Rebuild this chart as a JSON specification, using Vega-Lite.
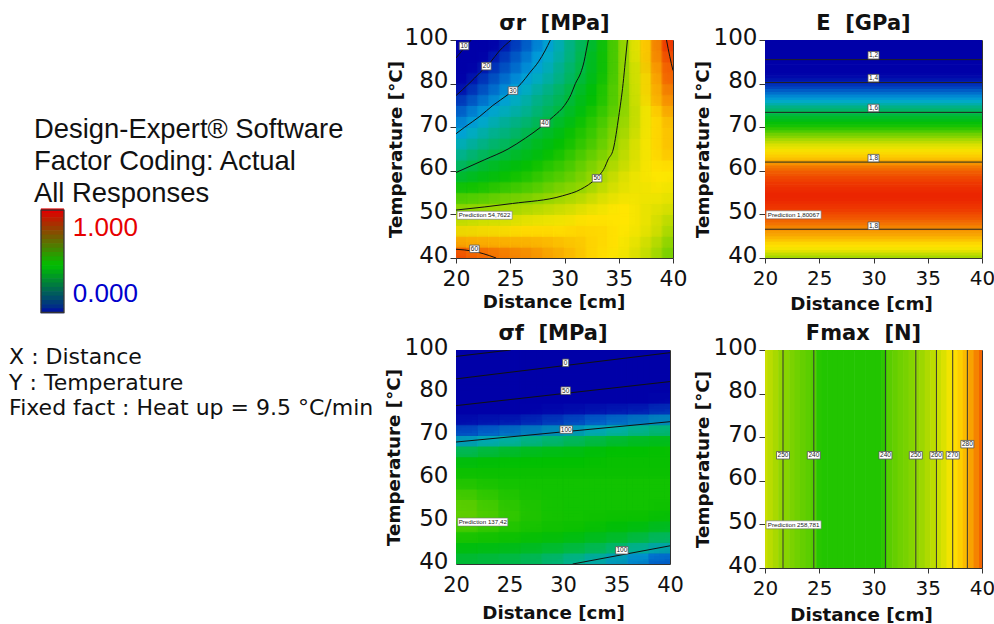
{
"$schema":"https://vega.github.io/schema/vega-lite/v6.json",
"padding":{"left":0,"top":12,"right":0,"bottom":0},
"background":"white",
"columns":3,
"spacing":92,
"bounds":"flush",
"center":{"row":false,"column":true},
"resolve":{"scale":{"color":"independent"}},
"config":{"view":{"stroke":"#333","strokeWidth":1},
"axis":{"grid":false,"domain":false,"labelFont":"DejaVu Sans","labelFontSize":22,"labelColor":"#111","tickColor":"#333","titleFont":"DejaVu Sans","titleFontWeight":"bold","titleFontSize":18.3,"titleColor":"#111","titleBaseline":"alphabetic","labelOverlap":false,"labelFlush":false},
"axisX":{"tickSize":5,"labelPadding":5},
"axisY":{"tickSize":6,"labelPadding":2,"labelOffset":-3,"labelFontSize":23},
"title":{"font":"DejaVu Sans","fontWeight":"bold","fontSize":21,"color":"#111","anchor":"middle","dx":-10,"dy":18,"offset":10}},
"datasets":{
"sr":[
{"x":20,"y":40,"v":62},{"x":21,"y":40,"v":61},{"x":22,"y":40,"v":60.5},{"x":23,"y":40,"v":60},{"x":24,"y":40,"v":59.5},{"x":25,"y":40,"v":59},{"x":26,"y":40,"v":58.5},{"x":27,"y":40,"v":58},{"x":28,"y":40,"v":57.5},{"x":29,"y":40,"v":57},{"x":30,"y":40,"v":56},{"x":31,"y":40,"v":55.5},{"x":32,"y":40,"v":55},{"x":33,"y":40,"v":54.5},{"x":34,"y":40,"v":54},{"x":35,"y":40,"v":53.5},{"x":36,"y":40,"v":53},{"x":37,"y":40,"v":52},{"x":38,"y":40,"v":51},{"x":39,"y":40,"v":49.5},{"x":40,"y":40,"v":48},
{"x":20,"y":42.5,"v":59},{"x":21,"y":42.5,"v":58.5},{"x":22,"y":42.5,"v":58},{"x":23,"y":42.5,"v":58},{"x":24,"y":42.5,"v":57.5},{"x":25,"y":42.5,"v":57.5},{"x":26,"y":42.5,"v":57},{"x":27,"y":42.5,"v":57},{"x":28,"y":42.5,"v":56.5},{"x":29,"y":42.5,"v":56},{"x":30,"y":42.5,"v":56},{"x":31,"y":42.5,"v":55.5},{"x":32,"y":42.5,"v":55},{"x":33,"y":42.5,"v":54.5},{"x":34,"y":42.5,"v":54.5},{"x":35,"y":42.5,"v":54},{"x":36,"y":42.5,"v":53.5},{"x":37,"y":42.5,"v":52.5},{"x":38,"y":42.5,"v":51.5},{"x":39,"y":42.5,"v":50},{"x":40,"y":42.5,"v":48.5},
{"x":20,"y":45,"v":55.5},{"x":21,"y":45,"v":55.5},{"x":22,"y":45,"v":55.5},{"x":23,"y":45,"v":55.5},{"x":24,"y":45,"v":55.5},{"x":25,"y":45,"v":55.5},{"x":26,"y":45,"v":55.5},{"x":27,"y":45,"v":55.5},{"x":28,"y":45,"v":55.5},{"x":29,"y":45,"v":55.5},{"x":30,"y":45,"v":55},{"x":31,"y":45,"v":55},{"x":32,"y":45,"v":55},{"x":33,"y":45,"v":54.5},{"x":34,"y":45,"v":54.5},{"x":35,"y":45,"v":54},{"x":36,"y":45,"v":53.5},{"x":37,"y":45,"v":53},{"x":38,"y":45,"v":52},{"x":39,"y":45,"v":51},{"x":40,"y":45,"v":49.5},
{"x":20,"y":47.5,"v":53},{"x":21,"y":47.5,"v":53},{"x":22,"y":47.5,"v":53.2},{"x":23,"y":47.5,"v":53.5},{"x":24,"y":47.5,"v":53.5},{"x":25,"y":47.5,"v":53.7},{"x":26,"y":47.5,"v":54},{"x":27,"y":47.5,"v":54},{"x":28,"y":47.5,"v":54},{"x":29,"y":47.5,"v":54},{"x":30,"y":47.5,"v":54},{"x":31,"y":47.5,"v":54.5},{"x":32,"y":47.5,"v":54.5},{"x":33,"y":47.5,"v":54.5},{"x":34,"y":47.5,"v":54.5},{"x":35,"y":47.5,"v":54},{"x":36,"y":47.5,"v":54},{"x":37,"y":47.5,"v":53.5},{"x":38,"y":47.5,"v":53},{"x":39,"y":47.5,"v":52},{"x":40,"y":47.5,"v":50.5},
{"x":20,"y":50,"v":50.8},{"x":21,"y":50,"v":51},{"x":22,"y":50,"v":51.3},{"x":23,"y":50,"v":51.5},{"x":24,"y":50,"v":51.7},{"x":25,"y":50,"v":52},{"x":26,"y":50,"v":52.2},{"x":27,"y":50,"v":52.5},{"x":28,"y":50,"v":52.8},{"x":29,"y":50,"v":53},{"x":30,"y":50,"v":53.2},{"x":31,"y":50,"v":53.5},{"x":32,"y":50,"v":54},{"x":33,"y":50,"v":54},{"x":34,"y":50,"v":54},{"x":35,"y":50,"v":54},{"x":36,"y":50,"v":54},{"x":37,"y":50,"v":53.5},{"x":38,"y":50,"v":53},{"x":39,"y":50,"v":52},{"x":40,"y":50,"v":51.5},
{"x":20,"y":52.5,"v":48.7},{"x":21,"y":52.5,"v":48.9},{"x":22,"y":52.5,"v":49.1},{"x":23,"y":52.5,"v":49.3},{"x":24,"y":52.5,"v":49.6},{"x":25,"y":52.5,"v":49.9},{"x":26,"y":52.5,"v":50.1},{"x":27,"y":52.5,"v":50.4},{"x":28,"y":52.5,"v":50.8},{"x":29,"y":52.5,"v":51.2},{"x":30,"y":52.5,"v":51.6},{"x":31,"y":52.5,"v":52},{"x":32,"y":52.5,"v":52.5},{"x":33,"y":52.5,"v":53},{"x":34,"y":52.5,"v":53.5},{"x":35,"y":52.5,"v":54},{"x":36,"y":52.5,"v":54},{"x":37,"y":52.5,"v":53.5},{"x":38,"y":52.5,"v":53},{"x":39,"y":52.5,"v":53},{"x":40,"y":52.5,"v":52.5},
{"x":20,"y":55,"v":46},{"x":21,"y":55,"v":46.5},{"x":22,"y":55,"v":46.5},{"x":23,"y":55,"v":47},{"x":24,"y":55,"v":47.5},{"x":25,"y":55,"v":48},{"x":26,"y":55,"v":48},{"x":27,"y":55,"v":48.5},{"x":28,"y":55,"v":49},{"x":29,"y":55,"v":49.5},{"x":30,"y":55,"v":50},{"x":31,"y":55,"v":50.5},{"x":32,"y":55,"v":51},{"x":33,"y":55,"v":52},{"x":34,"y":55,"v":52.5},{"x":35,"y":55,"v":53},{"x":36,"y":55,"v":53.5},{"x":37,"y":55,"v":53.5},{"x":38,"y":55,"v":53.5},{"x":39,"y":55,"v":53.5},{"x":40,"y":55,"v":53},
{"x":20,"y":57.5,"v":43},{"x":21,"y":57.5,"v":43.5},{"x":22,"y":57.5,"v":44},{"x":23,"y":57.5,"v":44.5},{"x":24,"y":57.5,"v":45},{"x":25,"y":57.5,"v":45.5},{"x":26,"y":57.5,"v":46},{"x":27,"y":57.5,"v":46.5},{"x":28,"y":57.5,"v":47},{"x":29,"y":57.5,"v":48},{"x":30,"y":57.5,"v":48.5},{"x":31,"y":57.5,"v":49},{"x":32,"y":57.5,"v":49.5},{"x":33,"y":57.5,"v":50.5},{"x":34,"y":57.5,"v":51.5},{"x":35,"y":57.5,"v":52.5},{"x":36,"y":57.5,"v":53},{"x":37,"y":57.5,"v":53.5},{"x":38,"y":57.5,"v":53.5},{"x":39,"y":57.5,"v":54},{"x":40,"y":57.5,"v":53.5},
{"x":20,"y":60,"v":39.5},{"x":21,"y":60,"v":40.5},{"x":22,"y":60,"v":41.5},{"x":23,"y":60,"v":42.5},{"x":24,"y":60,"v":43},{"x":25,"y":60,"v":44},{"x":26,"y":60,"v":44.5},{"x":27,"y":60,"v":45},{"x":28,"y":60,"v":46},{"x":29,"y":60,"v":46.5},{"x":30,"y":60,"v":47},{"x":31,"y":60,"v":48},{"x":32,"y":60,"v":49},{"x":33,"y":60,"v":50},{"x":34,"y":60,"v":51},{"x":35,"y":60,"v":52},{"x":36,"y":60,"v":53},{"x":37,"y":60,"v":53.5},{"x":38,"y":60,"v":54},{"x":39,"y":60,"v":54},{"x":40,"y":60,"v":54},
{"x":20,"y":62.5,"v":36.5},{"x":21,"y":62.5,"v":38},{"x":22,"y":62.5,"v":39.5},{"x":23,"y":62.5,"v":40.5},{"x":24,"y":62.5,"v":41.5},{"x":25,"y":62.5,"v":42.5},{"x":26,"y":62.5,"v":43},{"x":27,"y":62.5,"v":44},{"x":28,"y":62.5,"v":44.5},{"x":29,"y":62.5,"v":45.5},{"x":30,"y":62.5,"v":46},{"x":31,"y":62.5,"v":47},{"x":32,"y":62.5,"v":48},{"x":33,"y":62.5,"v":49},{"x":34,"y":62.5,"v":50},{"x":35,"y":62.5,"v":51},{"x":36,"y":62.5,"v":52},{"x":37,"y":62.5,"v":53},{"x":38,"y":62.5,"v":54},{"x":39,"y":62.5,"v":54.5},{"x":40,"y":62.5,"v":54.5},
{"x":20,"y":65,"v":33.5},{"x":21,"y":65,"v":35},{"x":22,"y":65,"v":36.5},{"x":23,"y":65,"v":38},{"x":24,"y":65,"v":39},{"x":25,"y":65,"v":40},{"x":26,"y":65,"v":41},{"x":27,"y":65,"v":42},{"x":28,"y":65,"v":43},{"x":29,"y":65,"v":44},{"x":30,"y":65,"v":45},{"x":31,"y":65,"v":46},{"x":32,"y":65,"v":47},{"x":33,"y":65,"v":48},{"x":34,"y":65,"v":49},{"x":35,"y":65,"v":50.5},{"x":36,"y":65,"v":52},{"x":37,"y":65,"v":53},{"x":38,"y":65,"v":54},{"x":39,"y":65,"v":55},{"x":40,"y":65,"v":55.5},
{"x":20,"y":67.5,"v":31},{"x":21,"y":67.5,"v":32.5},{"x":22,"y":67.5,"v":34},{"x":23,"y":67.5,"v":35.5},{"x":24,"y":67.5,"v":37},{"x":25,"y":67.5,"v":38},{"x":26,"y":67.5,"v":39.5},{"x":27,"y":67.5,"v":41},{"x":28,"y":67.5,"v":42},{"x":29,"y":67.5,"v":43},{"x":30,"y":67.5,"v":44},{"x":31,"y":67.5,"v":45},{"x":32,"y":67.5,"v":46},{"x":33,"y":67.5,"v":47},{"x":34,"y":67.5,"v":48.5},{"x":35,"y":67.5,"v":50},{"x":36,"y":67.5,"v":51.5},{"x":37,"y":67.5,"v":53},{"x":38,"y":67.5,"v":54},{"x":39,"y":67.5,"v":55},{"x":40,"y":67.5,"v":55.5},
{"x":20,"y":70,"v":28.3},{"x":21,"y":70,"v":30},{"x":22,"y":70,"v":32},{"x":23,"y":70,"v":33.5},{"x":24,"y":70,"v":35},{"x":25,"y":70,"v":36},{"x":26,"y":70,"v":37.5},{"x":27,"y":70,"v":39},{"x":28,"y":70,"v":40.5},{"x":29,"y":70,"v":41.5},{"x":30,"y":70,"v":43},{"x":31,"y":70,"v":44.5},{"x":32,"y":70,"v":45.5},{"x":33,"y":70,"v":46.5},{"x":34,"y":70,"v":48},{"x":35,"y":70,"v":49.5},{"x":36,"y":70,"v":51},{"x":37,"y":70,"v":52.5},{"x":38,"y":70,"v":54},{"x":39,"y":70,"v":55},{"x":40,"y":70,"v":55.5},
{"x":20,"y":72.5,"v":25.5},{"x":21,"y":72.5,"v":27.5},{"x":22,"y":72.5,"v":29.5},{"x":23,"y":72.5,"v":31},{"x":24,"y":72.5,"v":33},{"x":25,"y":72.5,"v":34.5},{"x":26,"y":72.5,"v":35.5},{"x":27,"y":72.5,"v":37},{"x":28,"y":72.5,"v":38.5},{"x":29,"y":72.5,"v":40},{"x":30,"y":72.5,"v":41.5},{"x":31,"y":72.5,"v":43},{"x":32,"y":72.5,"v":44.5},{"x":33,"y":72.5,"v":46},{"x":34,"y":72.5,"v":47},{"x":35,"y":72.5,"v":49},{"x":36,"y":72.5,"v":50.5},{"x":37,"y":72.5,"v":52.5},{"x":38,"y":72.5,"v":54},{"x":39,"y":72.5,"v":55},{"x":40,"y":72.5,"v":56},
{"x":20,"y":75,"v":23},{"x":21,"y":75,"v":25},{"x":22,"y":75,"v":27},{"x":23,"y":75,"v":29},{"x":24,"y":75,"v":31},{"x":25,"y":75,"v":32},{"x":26,"y":75,"v":33.5},{"x":27,"y":75,"v":35},{"x":28,"y":75,"v":37},{"x":29,"y":75,"v":38.5},{"x":30,"y":75,"v":40},{"x":31,"y":75,"v":42},{"x":32,"y":75,"v":43.5},{"x":33,"y":75,"v":45},{"x":34,"y":75,"v":46.5},{"x":35,"y":75,"v":48},{"x":36,"y":75,"v":50.5},{"x":37,"y":75,"v":52.5},{"x":38,"y":75,"v":54},{"x":39,"y":75,"v":56},{"x":40,"y":75,"v":57},
{"x":20,"y":77.5,"v":20},{"x":21,"y":77.5,"v":22},{"x":22,"y":77.5,"v":24},{"x":23,"y":77.5,"v":26},{"x":24,"y":77.5,"v":28},{"x":25,"y":77.5,"v":30.5},{"x":26,"y":77.5,"v":32},{"x":27,"y":77.5,"v":34},{"x":28,"y":77.5,"v":36},{"x":29,"y":77.5,"v":37},{"x":30,"y":77.5,"v":39},{"x":31,"y":77.5,"v":41},{"x":32,"y":77.5,"v":43},{"x":33,"y":77.5,"v":44},{"x":34,"y":77.5,"v":46},{"x":35,"y":77.5,"v":48},{"x":36,"y":77.5,"v":50.5},{"x":37,"y":77.5,"v":53},{"x":38,"y":77.5,"v":55},{"x":39,"y":77.5,"v":57},{"x":40,"y":77.5,"v":58},
{"x":20,"y":80,"v":15},{"x":21,"y":80,"v":19},{"x":22,"y":80,"v":22},{"x":23,"y":80,"v":24},{"x":24,"y":80,"v":26},{"x":25,"y":80,"v":28},{"x":26,"y":80,"v":30},{"x":27,"y":80,"v":32},{"x":28,"y":80,"v":34},{"x":29,"y":80,"v":36},{"x":30,"y":80,"v":38},{"x":31,"y":80,"v":40},{"x":32,"y":80,"v":42},{"x":33,"y":80,"v":44},{"x":34,"y":80,"v":46},{"x":35,"y":80,"v":48},{"x":36,"y":80,"v":50.5},{"x":37,"y":80,"v":53},{"x":38,"y":80,"v":55},{"x":39,"y":80,"v":57},{"x":40,"y":80,"v":59},
{"x":20,"y":85,"v":13},{"x":21,"y":85,"v":16},{"x":22,"y":85,"v":19.5},{"x":23,"y":85,"v":22},{"x":24,"y":85,"v":24},{"x":25,"y":85,"v":26},{"x":26,"y":85,"v":28},{"x":27,"y":85,"v":30.5},{"x":28,"y":85,"v":32},{"x":29,"y":85,"v":34},{"x":30,"y":85,"v":36},{"x":31,"y":85,"v":38.5},{"x":32,"y":85,"v":41},{"x":33,"y":85,"v":43},{"x":34,"y":85,"v":45},{"x":35,"y":85,"v":48},{"x":36,"y":85,"v":51},{"x":37,"y":85,"v":53},{"x":38,"y":85,"v":55},{"x":39,"y":85,"v":58},{"x":40,"y":85,"v":60},
{"x":20,"y":90,"v":11},{"x":21,"y":90,"v":14},{"x":22,"y":90,"v":17},{"x":23,"y":90,"v":19.5},{"x":24,"y":90,"v":22},{"x":25,"y":90,"v":24},{"x":26,"y":90,"v":26},{"x":27,"y":90,"v":28.5},{"x":28,"y":90,"v":31},{"x":29,"y":90,"v":33},{"x":30,"y":90,"v":36},{"x":31,"y":90,"v":38},{"x":32,"y":90,"v":40.5},{"x":33,"y":90,"v":43},{"x":34,"y":90,"v":45},{"x":35,"y":90,"v":48},{"x":36,"y":90,"v":51},{"x":37,"y":90,"v":53},{"x":38,"y":90,"v":56},{"x":39,"y":90,"v":58},{"x":40,"y":90,"v":60},
{"x":20,"y":95,"v":9},{"x":21,"y":95,"v":11},{"x":22,"y":95,"v":14},{"x":23,"y":95,"v":17},{"x":24,"y":95,"v":20},{"x":25,"y":95,"v":22.5},{"x":26,"y":95,"v":25},{"x":27,"y":95,"v":27},{"x":28,"y":95,"v":30},{"x":29,"y":95,"v":32},{"x":30,"y":95,"v":34},{"x":31,"y":95,"v":37},{"x":32,"y":95,"v":40},{"x":33,"y":95,"v":43},{"x":34,"y":95,"v":45},{"x":35,"y":95,"v":48},{"x":36,"y":95,"v":51},{"x":37,"y":95,"v":54},{"x":38,"y":95,"v":56},{"x":39,"y":95,"v":59},{"x":40,"y":95,"v":61},
{"x":20,"y":100,"v":7},{"x":21,"y":100,"v":9},{"x":22,"y":100,"v":12},{"x":23,"y":100,"v":14},{"x":24,"y":100,"v":17},{"x":25,"y":100,"v":20},{"x":26,"y":100,"v":23},{"x":27,"y":100,"v":25},{"x":28,"y":100,"v":28},{"x":29,"y":100,"v":31},{"x":30,"y":100,"v":34},{"x":31,"y":100,"v":37},{"x":32,"y":100,"v":39},{"x":33,"y":100,"v":42},{"x":34,"y":100,"v":45},{"x":35,"y":100,"v":48},{"x":36,"y":100,"v":51},{"x":37,"y":100,"v":54},{"x":38,"y":100,"v":56},{"x":39,"y":100,"v":59},{"x":40,"y":100,"v":62}
],
"srLines":[
{"c":"a","x":20,"y":91.75},{"c":"a","x":20.7,"y":96},{"c":"a","x":21.4,"y":100},
{"c":"b","x":20,"y":77.25},{"c":"b","x":21.2,"y":80},{"c":"b","x":22.2,"y":85},{"c":"b","x":23.2,"y":90},{"c":"b","x":24,"y":95},{"c":"b","x":25.1,"y":100},
{"c":"d","x":20,"y":68.5},{"c":"d","x":20.8,"y":70},{"c":"d","x":22.2,"y":72.5},{"c":"d","x":23.4,"y":75},{"c":"d","x":24.8,"y":77.5},{"c":"d","x":26,"y":80},{"c":"d","x":26.8,"y":85},{"c":"d","x":27.6,"y":90},{"c":"d","x":28.2,"y":95},{"c":"d","x":28.7,"y":100},
{"c":"e","x":20,"y":59.6},{"c":"e","x":22.6,"y":62.5},{"c":"e","x":24.8,"y":65},{"c":"e","x":26.4,"y":67.5},{"c":"e","x":27.8,"y":70},{"c":"e","x":29,"y":72.5},{"c":"e","x":30,"y":75},{"c":"e","x":30.6,"y":77.5},{"c":"e","x":31,"y":80},{"c":"e","x":31.5,"y":85},{"c":"e","x":31.8,"y":90},{"c":"e","x":32,"y":95},{"c":"e","x":32.2,"y":100},
{"c":"f","x":20,"y":51},{"c":"f","x":25.2,"y":52.5},{"c":"f","x":29.8,"y":54.25},{"c":"f","x":31.5,"y":55.75},{"c":"f","x":32.9,"y":58.25},{"c":"f","x":33.7,"y":60.75},{"c":"f","x":34,"y":62.5},{"c":"f","x":34.5,"y":65},{"c":"f","x":35,"y":72.5},{"c":"f","x":35.4,"y":80},{"c":"f","x":35.6,"y":90},{"c":"f","x":35.8,"y":100},
{"c":"g","x":20,"y":42},{"c":"g","x":21.5,"y":41.6},{"c":"g","x":22.5,"y":41},{"c":"g","x":23.7,"y":40},
{"c":"h","x":39.4,"y":100},{"c":"h","x":39.7,"y":92.5},{"c":"h","x":40,"y":86}
],
"srLabels":[{"x":20.74,"y":97.25,"t":"10"},{"x":22.8,"y":88,"t":"20"},{"x":25.25,"y":78.4,"t":"30"},{"x":28.2,"y":70.9,"t":"40"},{"x":33,"y":58.3,"t":"50"},{"x":21.7,"y":42.1,"t":"60"}],
"e":[
{"x":30,"y":40,"v":1.7},{"x":30,"y":41.25,"v":1.73},{"x":30,"y":42.5,"v":1.75},{"x":30,"y":43.75,"v":1.76},{"x":30,"y":45,"v":1.78},{"x":30,"y":46.25,"v":1.79},{"x":30,"y":47.5,"v":1.805},{"x":30,"y":48.75,"v":1.82},{"x":30,"y":50,"v":1.83},{"x":30,"y":51.25,"v":1.84},{"x":30,"y":52.5,"v":1.845},{"x":30,"y":53.75,"v":1.85},{"x":30,"y":55,"v":1.85},{"x":30,"y":56.25,"v":1.845},{"x":30,"y":57.5,"v":1.84},{"x":30,"y":58.75,"v":1.83},{"x":30,"y":60,"v":1.82},{"x":30,"y":61.25,"v":1.805},{"x":30,"y":62.5,"v":1.775},{"x":30,"y":63.75,"v":1.76},{"x":30,"y":65,"v":1.745},{"x":30,"y":66.25,"v":1.73},{"x":30,"y":67.5,"v":1.705},{"x":30,"y":68.75,"v":1.68},{"x":30,"y":70,"v":1.65},{"x":30,"y":71.25,"v":1.63},{"x":30,"y":72.5,"v":1.61},{"x":30,"y":73.75,"v":1.59},{"x":30,"y":75,"v":1.56},{"x":30,"y":76.25,"v":1.525},{"x":30,"y":77.5,"v":1.49},{"x":30,"y":78.75,"v":1.46},{"x":30,"y":80,"v":1.43},{"x":30,"y":82.5,"v":1.41},{"x":30,"y":85,"v":1.35},{"x":30,"y":87.5,"v":1.3},{"x":30,"y":90,"v":1.22},{"x":30,"y":92.5,"v":1.17},{"x":30,"y":95,"v":1.1},{"x":30,"y":97.5,"v":1.05},{"x":30,"y":100,"v":1}
],
"eLines":[{"c":"a","x":20,"y":91},{"c":"a","x":40,"y":91},{"c":"b","x":20,"y":80.5},{"c":"b","x":40,"y":80.5},{"c":"d","x":20,"y":73.4},{"c":"d","x":40,"y":73.4},{"c":"e","x":20,"y":62},{"c":"e","x":40,"y":62},{"c":"f","x":20,"y":46.6},{"c":"f","x":40,"y":46.6}],
"eLabels":[{"x":30,"y":93,"t":"1,2"},{"x":30,"y":82.5,"t":"1,4"},{"x":30,"y":74.4,"t":"1,6"},{"x":30,"y":62.9,"t":"1,8"},{"x":30,"y":47.4,"t":"1,8"}],
"sf":[
{"x":20,"y":40,"v":117},{"x":22,"y":40,"v":115},{"x":24,"y":40,"v":114},{"x":26,"y":40,"v":112},{"x":28,"y":40,"v":108},{"x":30,"y":40,"v":102},{"x":32,"y":40,"v":96},{"x":34,"y":40,"v":90},{"x":36,"y":40,"v":84},{"x":38,"y":40,"v":77},{"x":40,"y":40,"v":70},
{"x":20,"y":42.5,"v":120},{"x":22,"y":42.5,"v":119},{"x":24,"y":42.5,"v":118},{"x":26,"y":42.5,"v":117},{"x":28,"y":42.5,"v":115},{"x":30,"y":42.5,"v":113},{"x":32,"y":42.5,"v":110},{"x":34,"y":42.5,"v":106},{"x":36,"y":42.5,"v":100},{"x":38,"y":42.5,"v":94},{"x":40,"y":42.5,"v":86},
{"x":20,"y":45,"v":125},{"x":22,"y":45,"v":124},{"x":24,"y":45,"v":124},{"x":26,"y":45,"v":123},{"x":28,"y":45,"v":122},{"x":30,"y":45,"v":120},{"x":32,"y":45,"v":118},{"x":34,"y":45,"v":116},{"x":36,"y":45,"v":113},{"x":38,"y":45,"v":108},{"x":40,"y":45,"v":104},
{"x":20,"y":47.5,"v":130},{"x":22,"y":47.5,"v":129},{"x":24,"y":47.5,"v":128},{"x":26,"y":47.5,"v":127},{"x":28,"y":47.5,"v":126},{"x":30,"y":47.5,"v":126},{"x":32,"y":47.5,"v":124},{"x":34,"y":47.5,"v":122},{"x":36,"y":47.5,"v":121},{"x":38,"y":47.5,"v":118},{"x":40,"y":47.5,"v":115},
{"x":20,"y":50,"v":136},{"x":22,"y":50,"v":134},{"x":24,"y":50,"v":131},{"x":26,"y":50,"v":129},{"x":28,"y":50,"v":128},{"x":30,"y":50,"v":127},{"x":32,"y":50,"v":127},{"x":34,"y":50,"v":126},{"x":36,"y":50,"v":125},{"x":38,"y":50,"v":124},{"x":40,"y":50,"v":122},
{"x":20,"y":52.5,"v":137},{"x":22,"y":52.5,"v":136},{"x":24,"y":52.5,"v":133},{"x":26,"y":52.5,"v":130},{"x":28,"y":52.5,"v":128},{"x":30,"y":52.5,"v":127},{"x":32,"y":52.5,"v":127},{"x":34,"y":52.5,"v":127},{"x":36,"y":52.5,"v":127},{"x":38,"y":52.5,"v":127},{"x":40,"y":52.5,"v":126},
{"x":20,"y":55,"v":136},{"x":22,"y":55,"v":134},{"x":24,"y":55,"v":131},{"x":26,"y":55,"v":129},{"x":28,"y":55,"v":128},{"x":30,"y":55,"v":127},{"x":32,"y":55,"v":127},{"x":34,"y":55,"v":127},{"x":36,"y":55,"v":127},{"x":38,"y":55,"v":127},{"x":40,"y":55,"v":127},
{"x":20,"y":57.5,"v":132},{"x":22,"y":57.5,"v":131},{"x":24,"y":57.5,"v":129},{"x":26,"y":57.5,"v":128},{"x":28,"y":57.5,"v":127},{"x":30,"y":57.5,"v":127},{"x":32,"y":57.5,"v":127},{"x":34,"y":57.5,"v":127},{"x":36,"y":57.5,"v":127},{"x":38,"y":57.5,"v":127},{"x":40,"y":57.5,"v":127},
{"x":20,"y":60,"v":128},{"x":22,"y":60,"v":128},{"x":24,"y":60,"v":127},{"x":26,"y":60,"v":127},{"x":28,"y":60,"v":127},{"x":30,"y":60,"v":127},{"x":32,"y":60,"v":127},{"x":34,"y":60,"v":127},{"x":36,"y":60,"v":127},{"x":38,"y":60,"v":127},{"x":40,"y":60,"v":127},
{"x":20,"y":62.5,"v":126},{"x":22,"y":62.5,"v":126},{"x":24,"y":62.5,"v":126},{"x":26,"y":62.5,"v":126},{"x":28,"y":62.5,"v":126},{"x":30,"y":62.5,"v":126},{"x":32,"y":62.5,"v":126},{"x":34,"y":62.5,"v":126},{"x":36,"y":62.5,"v":126},{"x":38,"y":62.5,"v":126},{"x":40,"y":62.5,"v":126},
{"x":20,"y":65,"v":122},{"x":22,"y":65,"v":123},{"x":24,"y":65,"v":124},{"x":26,"y":65,"v":124},{"x":28,"y":65,"v":125},{"x":30,"y":65,"v":125},{"x":32,"y":65,"v":125},{"x":34,"y":65,"v":126},{"x":36,"y":65,"v":126},{"x":38,"y":65,"v":126},{"x":40,"y":65,"v":126},
{"x":20,"y":67.5,"v":108},{"x":22,"y":67.5,"v":112},{"x":24,"y":67.5,"v":115},{"x":26,"y":67.5,"v":118},{"x":28,"y":67.5,"v":120},{"x":30,"y":67.5,"v":121},{"x":32,"y":67.5,"v":122},{"x":34,"y":67.5,"v":124},{"x":36,"y":67.5,"v":125},{"x":38,"y":67.5,"v":125},{"x":40,"y":67.5,"v":126},
{"x":20,"y":70,"v":88},{"x":22,"y":70,"v":92},{"x":24,"y":70,"v":96},{"x":26,"y":70,"v":100},{"x":28,"y":70,"v":104},{"x":30,"y":70,"v":107},{"x":32,"y":70,"v":111},{"x":34,"y":70,"v":114},{"x":36,"y":70,"v":117},{"x":38,"y":70,"v":119},{"x":40,"y":70,"v":120},
{"x":20,"y":72.5,"v":70},{"x":22,"y":72.5,"v":74},{"x":24,"y":72.5,"v":77},{"x":26,"y":72.5,"v":80},{"x":28,"y":72.5,"v":84},{"x":30,"y":72.5,"v":87},{"x":32,"y":72.5,"v":91},{"x":34,"y":72.5,"v":95},{"x":36,"y":72.5,"v":99},{"x":38,"y":72.5,"v":102},{"x":40,"y":72.5,"v":106},
{"x":20,"y":75,"v":58},{"x":22,"y":75,"v":60},{"x":24,"y":75,"v":62},{"x":26,"y":75,"v":65},{"x":28,"y":75,"v":68},{"x":30,"y":75,"v":70},{"x":32,"y":75,"v":73},{"x":34,"y":75,"v":76},{"x":36,"y":75,"v":79},{"x":38,"y":75,"v":82},{"x":40,"y":75,"v":86},
{"x":20,"y":77.5,"v":46},{"x":22,"y":77.5,"v":48},{"x":24,"y":77.5,"v":50},{"x":26,"y":77.5,"v":52},{"x":28,"y":77.5,"v":54},{"x":30,"y":77.5,"v":56},{"x":32,"y":77.5,"v":58},{"x":34,"y":77.5,"v":60},{"x":36,"y":77.5,"v":62},{"x":38,"y":77.5,"v":65},{"x":40,"y":77.5,"v":69},
{"x":20,"y":80,"v":26},{"x":22,"y":80,"v":30},{"x":24,"y":80,"v":35},{"x":26,"y":80,"v":39},{"x":28,"y":80,"v":44},{"x":30,"y":80,"v":48},{"x":32,"y":80,"v":50},{"x":34,"y":80,"v":52},{"x":36,"y":80,"v":54},{"x":38,"y":80,"v":56},{"x":40,"y":80,"v":58},
{"x":20,"y":85,"v":6},{"x":22,"y":85,"v":10.5},{"x":24,"y":85,"v":15},{"x":26,"y":85,"v":19.5},{"x":28,"y":85,"v":24},{"x":30,"y":85,"v":28.5},{"x":32,"y":85,"v":33},{"x":34,"y":85,"v":37.5},{"x":36,"y":85,"v":42},{"x":38,"y":85,"v":46.5},{"x":40,"y":85,"v":51},
{"x":20,"y":90,"v":-14},{"x":22,"y":90,"v":-9.5},{"x":24,"y":90,"v":-5},{"x":26,"y":90,"v":-0.5},{"x":28,"y":90,"v":4},{"x":30,"y":90,"v":8.5},{"x":32,"y":90,"v":13},{"x":34,"y":90,"v":17.5},{"x":36,"y":90,"v":22},{"x":38,"y":90,"v":26.5},{"x":40,"y":90,"v":31},
{"x":20,"y":95,"v":-41},{"x":22,"y":95,"v":-35},{"x":24,"y":95,"v":-30},{"x":26,"y":95,"v":-24},{"x":28,"y":95,"v":-18},{"x":30,"y":95,"v":-12},{"x":32,"y":95,"v":-6},{"x":34,"y":95,"v":0},{"x":36,"y":95,"v":6},{"x":38,"y":95,"v":12},{"x":40,"y":95,"v":19},
{"x":20,"y":100,"v":-62},{"x":22,"y":100,"v":-57},{"x":24,"y":100,"v":-52},{"x":26,"y":100,"v":-47},{"x":28,"y":100,"v":-41},{"x":30,"y":100,"v":-36},{"x":32,"y":100,"v":-31},{"x":34,"y":100,"v":-25},{"x":36,"y":100,"v":-19},{"x":38,"y":100,"v":-12},{"x":40,"y":100,"v":-5}
],
"sfLines":[{"c":"a","x":20,"y":97},{"c":"a","x":25.1,"y":100},{"c":"b","x":20,"y":86.5},{"c":"b","x":40,"y":98.75},{"c":"d","x":20,"y":77},{"c":"d","x":30.67,"y":80},{"c":"d","x":40,"y":85.25},{"c":"e","x":20,"y":68.5},{"c":"e","x":40,"y":73.25},{"c":"f","x":30.9,"y":40},{"c":"f","x":40,"y":44.25}],
"sfLabels":[{"x":30.25,"y":94,"t":"0"},{"x":30.25,"y":81,"t":"50"},{"x":30.3,"y":71.4,"t":"100"},{"x":35.5,"y":43.2,"t":"100"}],
"f":[
{"x":20,"y":65,"v":261},{"x":20.5,"y":65,"v":258},{"x":21,"y":65,"v":255},{"x":21.5,"y":65,"v":251},{"x":22,"y":65,"v":249},{"x":22.5,"y":65,"v":247},{"x":23,"y":65,"v":245},{"x":23.5,"y":65,"v":243},{"x":24,"y":65,"v":241.5},{"x":24.5,"y":65,"v":240},{"x":25,"y":65,"v":232},{"x":25.5,"y":65,"v":231},{"x":26,"y":65,"v":231},{"x":26.5,"y":65,"v":231},{"x":27,"y":65,"v":231},{"x":27.5,"y":65,"v":231},{"x":28,"y":65,"v":231},{"x":28.5,"y":65,"v":231},{"x":29,"y":65,"v":231},{"x":29.5,"y":65,"v":231},{"x":30,"y":65,"v":231},{"x":30.5,"y":65,"v":231},{"x":31,"y":65,"v":233},{"x":31.5,"y":65,"v":241},{"x":32,"y":65,"v":243},{"x":32.5,"y":65,"v":245},{"x":33,"y":65,"v":246.5},{"x":33.5,"y":65,"v":248.5},{"x":34,"y":65,"v":250.5},{"x":34.5,"y":65,"v":253},{"x":35,"y":65,"v":256},{"x":35.5,"y":65,"v":258.5},{"x":36,"y":65,"v":261},{"x":36.5,"y":65,"v":264},{"x":37,"y":65,"v":268},{"x":37.5,"y":65,"v":272},{"x":38,"y":65,"v":275},{"x":38.5,"y":65,"v":279},{"x":39,"y":65,"v":284},{"x":39.5,"y":65,"v":290},{"x":40,"y":65,"v":296}
],
"fLines":[{"c":"a","x":21.66,"y":40},{"c":"a","x":21.66,"y":100},{"c":"b","x":24.5,"y":40},{"c":"b","x":24.5,"y":100},{"c":"d","x":31.1,"y":40},{"c":"d","x":31.1,"y":100},{"c":"e","x":33.9,"y":40},{"c":"e","x":33.9,"y":100},{"c":"f","x":35.8,"y":40},{"c":"f","x":35.8,"y":100},{"c":"g","x":37.3,"y":40},{"c":"g","x":37.3,"y":100},{"c":"h","x":38.65,"y":40},{"c":"h","x":38.65,"y":100}],
"fLabels":[{"x":21.66,"y":65.85,"t":"250"},{"x":24.5,"y":65.85,"t":"240"},{"x":31.1,"y":65.85,"t":"240"},{"x":33.9,"y":65.85,"t":"250"},{"x":35.8,"y":65.85,"t":"260"},{"x":37.3,"y":65.85,"t":"270"},{"x":38.65,"y":68.4,"t":"280"}],
"bar":[
{"y":78.4,"v":1},{"y":80.4,"v":0.96},{"y":82.4,"v":0.92},{"y":84.4,"v":0.88},{"y":86.4,"v":0.84},{"y":88.4,"v":0.8},{"y":90.4,"v":0.76},{"y":92.4,"v":0.72},{"y":94.4,"v":0.68},{"y":96.4,"v":0.64},{"y":98.4,"v":0.6},{"y":100.4,"v":0.56},{"y":102.4,"v":0.52},{"y":104.4,"v":0.48},{"y":106.4,"v":0.44},{"y":108.4,"v":0.4},{"y":110.4,"v":0.36},{"y":112.4,"v":0.32},{"y":114.4,"v":0.28},{"y":116.4,"v":0.24},{"y":118.4,"v":0.2},{"y":120.4,"v":0.16},{"y":122.4,"v":0.12},{"y":124.2,"v":0.06}
]
},
"concat":[
{"width":364,"height":218,"view":{"stroke":null},
"encoding":{"x":{"type":"quantitative","scale":{"domain":[0,100],"nice":false},"axis":null},"y":{"type":"quantitative","scale":{"domain":[0,100],"reverse":true,"nice":false},"axis":null}},
"layer":[
{"data":{"values":[{"x":9.34,"y":45,"t":"Design-Expert® Software"},{"x":9.34,"y":59.6,"t":"Factor Coding: Actual"},{"x":9.34,"y":74.3,"t":"All Responses"}]},
"mark":{"type":"text","align":"left","baseline":"alphabetic","font":"Liberation Sans","fontSize":27.4,"color":"#111"},
"encoding":{"x":{"field":"x"},"y":{"field":"y"},"text":{"field":"t"}}},
{"data":{"name":"bar"},"mark":{"type":"rect","width":23,"height":5},
"encoding":{"x":{"datum":14.4},"y":{"field":"y"},"color":{"field":"v","type":"quantitative","legend":null,"scale":{"domain":[0,0.5,1],"range":["#0000b0","#00c000","#e00000"],"interpolate":"rgb","clamp":true}}}},
{"data":{"values":[{"x":11.26,"x2":17.58,"y":78,"y2":125}]},"mark":{"type":"rect","fillOpacity":0,"stroke":"#333","strokeWidth":1.3},
"encoding":{"x":{"field":"x"},"x2":{"field":"x2"},"y":{"field":"y"},"y2":{"field":"y2"}}},
{"data":{"values":[{"x":20,"y":89.9,"t":"1.000"}]},"mark":{"type":"text","align":"left","baseline":"alphabetic","font":"Liberation Sans","fontSize":26,"color":"#e60000"},
"encoding":{"x":{"field":"x"},"y":{"field":"y"},"text":{"field":"t"}}},
{"data":{"values":[{"x":20,"y":120.2,"t":"0.000"}]},"mark":{"type":"text","align":"left","baseline":"alphabetic","font":"Liberation Sans","fontSize":26,"color":"#0000cc"},
"encoding":{"x":{"field":"x"},"y":{"field":"y"},"text":{"field":"t"}}}
]},
{"width":217,"height":218,"title":"σr\u00a0\u00a0[MPa]",
"encoding":{"x":{"type":"quantitative","field":"x","scale":{"domain":[20,40],"nice":false,"zero":false},"axis":{"values":[20,25,30,35,40],"title":"Distance [cm]","titleX":97.5,"titleY":49,"labelFontSize":22}},
"y":{"type":"quantitative","field":"y","scale":{"domain":[40,50,60,70,80,100],"range":[218,174.4,130.8,87.2,43.6,0]},"axis":{"values":[40,50,60,70,80,100],"title":"Temperature [°C]","titleX":-55,"titleY":109}}},
"layer":[
{"data":{"name":"sr"},"mark":{"type":"rect","width":11.6,"height":11.6,"clip":true},"encoding":{"color":{"field":"v","type":"quantitative","legend":null,"scale":{"domain":[18,30,44,54,63],"range":["#0000a8","#00a8e0","#00c000","#ffe600","#e80000"],"interpolate":"rgb","clamp":true}}}},
{"data":{"name":"sr"},"mark":{"type":"rect","width":17,"height":17,"clip":true,"opacity":0.35},"encoding":{"color":{"field":"v","type":"quantitative","legend":null,"scale":{"domain":[18,30,44,54,63],"range":["#0000a8","#00a8e0","#00c000","#ffe600","#e80000"],"interpolate":"rgb","clamp":true}}}},
{"data":{"name":"sr"},"mark":{"type":"rect","width":23,"height":23,"clip":true,"opacity":0.35},"encoding":{"color":{"field":"v","type":"quantitative","legend":null,"scale":{"domain":[18,30,44,54,63],"range":["#0000a8","#00a8e0","#00c000","#ffe600","#e80000"],"interpolate":"rgb","clamp":true}}}},
{"data":{"name":"srLines"},"mark":{"type":"line","color":"#111","strokeWidth":1,"interpolate":"monotone","clip":true},"encoding":{"detail":{"field":"c"},"order":{"field":"x"}}},
{"data":{"name":"srLabels"},"mark":{"type":"rect","width":9.5,"height":7.5,"fill":"white","stroke":"#555","strokeWidth":0.8}},
{"data":{"name":"srLabels"},"mark":{"type":"text","font":"Liberation Sans","fontSize":6.5,"color":"#222"},"encoding":{"text":{"field":"t"}}},
{"data":{"values":[{"x":22.64,"y":49.8,"t":"Prediction  54,7622"}]},"mark":{"type":"rect","width":55,"height":8,"fill":"white","stroke":"#777","strokeWidth":0.6}},
{"data":{"values":[{"x":22.64,"y":49.8,"t":"Prediction  54,7622"}]},"mark":{"type":"text","font":"Liberation Sans","fontSize":6.2,"color":"#222"},"encoding":{"text":{"field":"t"}}}
]},
{"width":217,"height":218,"title":"E\u00a0\u00a0[GPa]",
"encoding":{"x":{"type":"quantitative","field":"x","scale":{"domain":[20,40],"nice":false,"zero":false},"axis":{"values":[20,25,30,35,40],"title":"Distance [cm]","titleX":96,"titleY":51,"labelFontSize":20}},
"y":{"type":"quantitative","field":"y","scale":{"domain":[40,50,60,70,80,100],"range":[218,174.4,130.8,87.2,43.6,0]},"axis":{"values":[40,50,60,70,80,100],"title":"Temperature [°C]","titleX":-57,"titleY":109}}},
"layer":[
{"data":{"name":"e"},"mark":{"type":"rect","width":218,"height":6,"clip":true},"encoding":{"color":{"field":"v","type":"quantitative","legend":null,"scale":{"domain":[1.4,1.52,1.635,1.75,1.87],"range":["#0000a8","#00a8e0","#00c000","#ffe600","#e80000"],"interpolate":"rgb","clamp":true}}}},
{"data":{"name":"e"},"mark":{"type":"rect","width":218,"height":11,"clip":true,"opacity":0.35},"encoding":{"color":{"field":"v","type":"quantitative","legend":null,"scale":{"domain":[1.4,1.52,1.635,1.75,1.87],"range":["#0000a8","#00a8e0","#00c000","#ffe600","#e80000"],"interpolate":"rgb","clamp":true}}}},
{"data":{"name":"eLines"},"mark":{"type":"line","color":"#222","strokeWidth":1,"clip":true},"encoding":{"detail":{"field":"c"}}},
{"data":{"name":"eLabels"},"mark":{"type":"rect","width":11,"height":7.5,"fill":"white","stroke":"#555","strokeWidth":0.8}},
{"data":{"name":"eLabels"},"mark":{"type":"text","font":"Liberation Sans","fontSize":6.5,"color":"#222"},"encoding":{"text":{"field":"t"}}},
{"data":{"values":[{"x":22.64,"y":49.9,"t":"Prediction  1,80067"}]},"mark":{"type":"rect","width":55,"height":8,"fill":"white","stroke":"#777","strokeWidth":0.6}},
{"data":{"values":[{"x":22.64,"y":49.9,"t":"Prediction  1,80067"}]},"mark":{"type":"text","font":"Liberation Sans","fontSize":6.2,"color":"#222"},"encoding":{"text":{"field":"t"}}}
]},
{"width":364,"height":218,"view":{"stroke":null},
"encoding":{"x":{"type":"quantitative","scale":{"domain":[0,100],"nice":false},"axis":null},"y":{"type":"quantitative","scale":{"domain":[0,100],"reverse":true,"nice":false},"axis":null}},
"layer":[
{"data":{"values":[{"x":2.5,"y":6.4,"t":"X : Distance"},{"x":2.5,"y":18.3,"t":"Y : Temperature"},{"x":2.5,"y":29.8,"t":"Fixed fact : Heat up = 9.5 °C/min"}]},
"mark":{"type":"text","align":"left","baseline":"alphabetic","font":"DejaVu Sans","fontSize":22,"color":"#111"},
"encoding":{"x":{"field":"x"},"y":{"field":"y"},"text":{"field":"t"}}}
]},
{"width":214,"height":214,"title":"σf\u00a0\u00a0[MPa]",
"encoding":{"x":{"type":"quantitative","field":"x","scale":{"domain":[20,40],"nice":false,"zero":false},"axis":{"values":[20,25,30,35,40],"title":"Distance [cm]","titleX":97,"titleY":54,"ticks":false,"labelPadding":10,"labelFontSize":21}},
"y":{"type":"quantitative","field":"y","scale":{"domain":[40,50,60,70,80,100],"range":[214,171.2,128.4,85.6,42.8,0]},"axis":{"values":[40,50,60,70,80,100],"title":"Temperature [°C]","titleX":-57,"titleY":107,"ticks":false,"labelPadding":8}}},
"layer":[
{"data":{"name":"sf"},"mark":{"type":"rect","width":22,"height":11.4,"clip":true},"encoding":{"color":{"field":"v","type":"quantitative","legend":null,"scale":{"domain":[65,95,125,155,185],"range":["#0000a8","#00a8e0","#00c000","#ffe600","#e80000"],"interpolate":"rgb","clamp":true}}}},
{"data":{"name":"sf"},"mark":{"type":"rect","width":32,"height":16,"clip":true,"opacity":0.35},"encoding":{"color":{"field":"v","type":"quantitative","legend":null,"scale":{"domain":[65,95,125,155,185],"range":["#0000a8","#00a8e0","#00c000","#ffe600","#e80000"],"interpolate":"rgb","clamp":true}}}},
{"data":{"name":"sf"},"mark":{"type":"rect","width":44,"height":22,"clip":true,"opacity":0.35},"encoding":{"color":{"field":"v","type":"quantitative","legend":null,"scale":{"domain":[65,95,125,155,185],"range":["#0000a8","#00a8e0","#00c000","#ffe600","#e80000"],"interpolate":"rgb","clamp":true}}}},
{"data":{"name":"sfLines"},"mark":{"type":"line","color":"#111","strokeWidth":1,"clip":true},"encoding":{"detail":{"field":"c"},"order":{"field":"x"}}},
{"data":{"name":"sfLabels"},"transform":[{"filter":"datum.t=='100'"}],"mark":{"type":"rect","width":12.5,"height":7.5,"fill":"white","stroke":"#555","strokeWidth":0.8}},
{"data":{"name":"sfLabels"},"transform":[{"filter":"datum.t=='50'"}],"mark":{"type":"rect","width":9.5,"height":7.5,"fill":"white","stroke":"#555","strokeWidth":0.8}},
{"data":{"name":"sfLabels"},"transform":[{"filter":"datum.t=='0'"}],"mark":{"type":"rect","width":6,"height":7.5,"fill":"white","stroke":"#555","strokeWidth":0.8}},
{"data":{"name":"sfLabels"},"mark":{"type":"text","font":"Liberation Sans","fontSize":6.5,"color":"#222"},"encoding":{"text":{"field":"t"}}},
{"data":{"values":[{"x":22.5,"y":49.8,"t":"Prediction  137,42"}]},"mark":{"type":"rect","width":50,"height":8,"fill":"white","stroke":"#777","strokeWidth":0.6}},
{"data":{"values":[{"x":22.5,"y":49.8,"t":"Prediction  137,42"}]},"mark":{"type":"text","font":"Liberation Sans","fontSize":6.2,"color":"#222"},"encoding":{"text":{"field":"t"}}}
]},
{"width":217,"height":218,"title":"Fmax\u00a0\u00a0[N]",
"encoding":{"x":{"type":"quantitative","field":"x","scale":{"domain":[20,40],"nice":false,"zero":false},"axis":{"values":[20,25,30,35,40],"title":"Distance [cm]","titleX":96,"titleY":52,"labelFontSize":20}},
"y":{"type":"quantitative","field":"y","scale":{"domain":[40,50,60,70,80,100],"range":[218,174.4,130.8,87.2,43.6,0]},"axis":{"values":[40,50,60,70,80,100],"title":"Temperature [°C]","titleX":-57,"titleY":109}}},
"layer":[
{"data":{"name":"f"},"mark":{"type":"rect","width":6,"height":219,"clip":true},"encoding":{"color":{"field":"v","type":"quantitative","legend":null,"scale":{"domain":[134,179.5,225,270.5,316],"range":["#0000a8","#00a8e0","#00c000","#ffe600","#e80000"],"interpolate":"rgb","clamp":true}}}},
{"data":{"name":"fLines"},"mark":{"type":"line","color":"#333","strokeWidth":1,"clip":true},"encoding":{"detail":{"field":"c"}}},
{"data":{"name":"fLabels"},"mark":{"type":"rect","width":13,"height":7.5,"fill":"white","stroke":"#555","strokeWidth":0.8}},
{"data":{"name":"fLabels"},"mark":{"type":"text","font":"Liberation Sans","fontSize":6.5,"color":"#222"},"encoding":{"text":{"field":"t"}}},
{"data":{"values":[{"x":22.64,"y":49.9,"t":"Prediction  258,781"}]},"mark":{"type":"rect","width":55,"height":8,"fill":"white","stroke":"#777","strokeWidth":0.6}},
{"data":{"values":[{"x":22.64,"y":49.9,"t":"Prediction  258,781"}]},"mark":{"type":"text","font":"Liberation Sans","fontSize":6.2,"color":"#222"},"encoding":{"text":{"field":"t"}}}
]}
]}
